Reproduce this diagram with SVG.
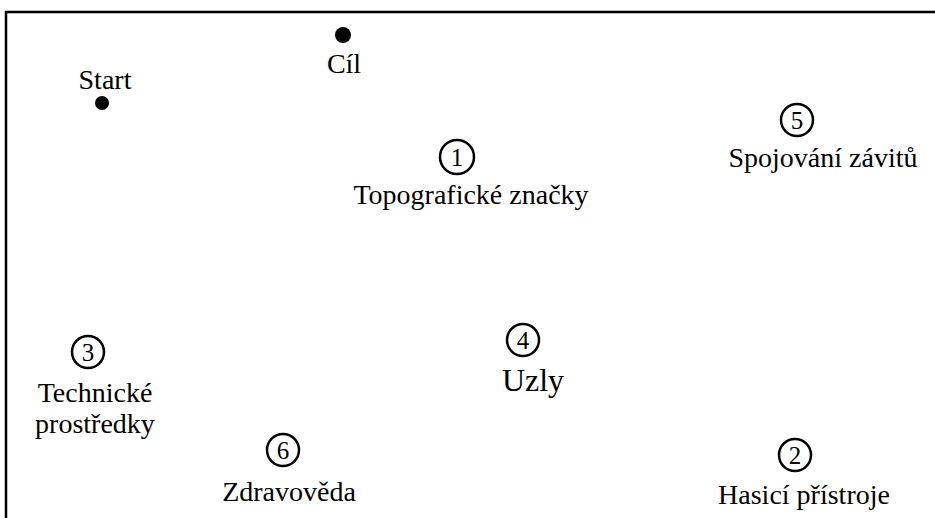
<svg xmlns="http://www.w3.org/2000/svg" width="935" height="518" viewBox="0 0 935 518">
<style>
text{font-family:"Liberation Serif","Times New Roman",serif;fill:#000;text-anchor:middle}
.lbl{font-size:28px}
.num{font-size:25px}
.ring{fill:none;stroke:#000;stroke-width:2.5}
.dot{fill:#000}
</style>
<rect width="935" height="518" fill="#fff"/>
<g id="frame"><path d="M6 518 V12 H935" fill="none" stroke="#000" stroke-width="2.5"/></g>
<g id="connectors"></g>
<g id="start"><circle class="dot" cx="102" cy="103" r="7"/><text class="lbl" x="105" y="89">Start</text></g>
<g id="cil"><circle class="dot" cx="343" cy="35" r="8"/><text class="lbl" x="344" y="73">Cíl</text></g>
<g id="n1"><circle class="ring" cx="457" cy="157" r="17"/><text class="num" x="457" y="166">1</text><text class="lbl" x="471" y="204">Topografické značky</text></g>
<g id="n5"><circle class="ring" cx="797" cy="120" r="16"/><text class="num" x="797" y="129">5</text><text class="lbl" x="823" y="167">Spojování závitů</text></g>
<g id="n3"><circle class="ring" cx="88" cy="352" r="16"/><text class="num" x="88" y="361">3</text><text class="lbl" x="95" y="402">Technické</text><text class="lbl" x="95" y="433">prostředky</text></g>
<g id="n4"><circle class="ring" cx="523" cy="340" r="16"/><text class="num" x="523" y="349">4</text><text class="lbl" x="533" y="391" style="font-size:32px">Uzly</text></g>
<g id="n6"><circle class="ring" cx="283" cy="450" r="16"/><text class="num" x="283" y="459">6</text><text class="lbl" x="289" y="501">Zdravověda</text></g>
<g id="n2"><circle class="ring" cx="795" cy="455" r="16"/><text class="num" x="795" y="464">2</text><text class="lbl" x="804" y="504">Hasicí přístroje</text></g>
</svg>
